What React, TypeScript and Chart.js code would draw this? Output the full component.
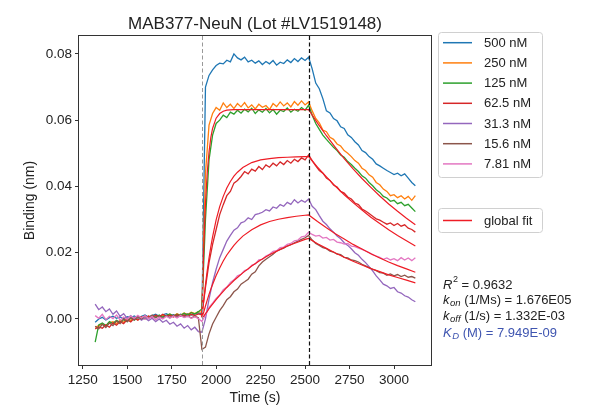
import React, { useEffect, useRef } from "react";
import { Chart, registerables } from "chart.js";
Chart.register(...registerables);

// ---------- data ----------
const times = [
  1320, 1340, 1360, 1380, 1400, 1420, 1440, 1460, 1480, 1500, 1520, 1540, 1560, 1580, 1600, 1620,
  1640, 1660, 1680, 1700, 1720, 1740, 1760, 1780, 1800, 1820, 1840, 1860, 1880, 1900, 1920,
  1940, 1960, 1980, 2000, 2020, 2040, 2060, 2080, 2100, 2120, 2140, 2160, 2180, 2200, 2220,
  2240, 2260, 2280, 2300, 2320, 2340, 2360, 2380, 2400, 2420, 2440, 2460, 2480, 2500, 2520,
  2540, 2560, 2580, 2600, 2620, 2640, 2660, 2680, 2700, 2720, 2740, 2760, 2780, 2800, 2820,
  2840, 2860, 2880, 2900, 2920, 2940, 2960, 2980, 3000, 3020, 3040, 3060, 3080, 3100, 3120,
];

const s500 = [
  -0.001, 0.0, 0.0005, -0.0003, 0.0004, 0.0008, 0.0002, 0.0006, 0.0, 0.0007, 0.0004, 0.0009, 0.0003, 0.0008, 0.0012, 0.0006,
  0.001, 0.0014, 0.0008, 0.0012, 0.0016, 0.001, 0.0013, 0.0009, 0.0014, 0.0011, 0.0016, 0.0012, 0.0015, 0.0018, 0.0015,
  0.07, 0.0735, 0.0752, 0.0765, 0.0772, 0.077, 0.0781, 0.0776, 0.08, 0.0788, 0.0782, 0.079, 0.0776, 0.0781, 0.0772,
  0.0779, 0.0768, 0.0777, 0.077, 0.078, 0.0766, 0.0775, 0.0771, 0.0782, 0.0774, 0.0786, 0.0777, 0.0788, 0.078, 0.079,
  0.0755, 0.0712, 0.0695, 0.0665, 0.0628, 0.0622, 0.0605, 0.0598, 0.058, 0.0575, 0.0556, 0.0548, 0.0535, 0.0525, 0.0508,
  0.0502, 0.049, 0.0482, 0.0468, 0.0462, 0.0455, 0.0448, 0.0442, 0.0436, 0.044, 0.0432, 0.0438, 0.0425, 0.0412, 0.0402,
];
const s250 = [
  -0.0025, -0.002, -0.0015, -0.0022, -0.0012, -0.0008, -0.0014, -0.0004, -0.001, 0.0002, -0.0005, 0.0004, -0.0002, 0.0006, 0.0001, 0.0008,
  0.0003, 0.001, 0.0005, 0.0012, 0.0007, 0.0014, 0.0009, 0.0016, 0.0011, 0.0018, 0.0013, 0.002, 0.0016, 0.0022, 0.002,
  0.044, 0.0585, 0.062, 0.0638, 0.063, 0.0652, 0.0638, 0.0648, 0.0635, 0.065, 0.064, 0.0653, 0.0637, 0.0646, 0.0634,
  0.0648, 0.0639, 0.0644, 0.0632, 0.065, 0.0641, 0.0655, 0.0643, 0.0652, 0.064, 0.0656, 0.0645, 0.0658, 0.0646, 0.0655,
  0.0628, 0.0605, 0.0592, 0.057, 0.0565, 0.0548, 0.0542, 0.0528, 0.0522, 0.0508, 0.05, 0.049, 0.0478, 0.047, 0.0455,
  0.0448, 0.0435, 0.0428, 0.0412, 0.0405, 0.0392, 0.0385, 0.0372, 0.0375, 0.0366, 0.0372, 0.0362, 0.037, 0.0358, 0.0372,
];
const s125 = [
  -0.007, -0.0018, -0.0012, -0.002, -0.0008, -0.0014, -0.0004, -0.0011, -0.0002, -0.0008, 0.0003, -0.0004, 0.0005, -0.0001, 0.0008, 0.0002,
  0.001, 0.0004, 0.0012, 0.0006, 0.0011, 0.0015, 0.0008, 0.0014, 0.001, 0.0017, 0.0012, 0.0019, 0.0015, 0.0022, 0.003,
  0.03, 0.048, 0.0555, 0.059, 0.06, 0.0615, 0.0608, 0.0624, 0.0618, 0.063, 0.0621, 0.0633, 0.0625, 0.0636, 0.062,
  0.0631, 0.0624, 0.0635, 0.0622, 0.0632, 0.0618, 0.063, 0.0626, 0.0637, 0.0624, 0.0633, 0.0627, 0.0638, 0.063, 0.0645,
  0.0615, 0.059, 0.0572, 0.0555, 0.0542, 0.053, 0.0518, 0.0508, 0.0495, 0.0488, 0.0475, 0.0466, 0.0455, 0.0445, 0.0432,
  0.0425, 0.0412, 0.0402, 0.039, 0.0382, 0.037, 0.0365, 0.0355, 0.0358, 0.0348, 0.0352, 0.0342, 0.0346, 0.0335, 0.0324,
];
const s62 = [
  -0.003, -0.0024, -0.0028, -0.0018, -0.0025, -0.0012, -0.0019, -0.0008, -0.0014, -0.0002, -0.0009, 0.0003, -0.0004, 0.0006, 0.0, 0.0009,
  0.0003, 0.0012, 0.0005, 0.0014, 0.0008, 0.0011, 0.0006, 0.0013, 0.0008, 0.0012, 0.0007, 0.0014, 0.001, 0.0015, 0.0012,
  0.0095, 0.017, 0.0225, 0.027, 0.0315, 0.0345, 0.0372, 0.0385, 0.041, 0.0418, 0.043, 0.0445, 0.0438, 0.0452, 0.0446,
  0.046, 0.0451, 0.0465, 0.0458, 0.047, 0.0462, 0.0474, 0.0466, 0.0478, 0.047, 0.0482, 0.0475, 0.0486, 0.048, 0.0495,
  0.0478, 0.0462, 0.0448, 0.044, 0.0425, 0.0418, 0.0404, 0.0398, 0.0385, 0.038, 0.0368, 0.0362, 0.035, 0.0345, 0.0332,
  0.0326, 0.0318, 0.031, 0.0302, 0.0298, 0.0292, 0.0286, 0.029, 0.0282, 0.0288, 0.028, 0.0284, 0.0274, 0.027, 0.0262,
];
const s31 = [
  0.0045, 0.0028, 0.0036, 0.0022, 0.003, 0.0014, 0.0024, 0.0008, 0.0016, 0.0002, 0.001, -0.0002, 0.0006, -0.0004, 0.0003, -0.0005,
  0.0002, -0.0008, 0.0, -0.001, -0.0004, -0.0016, -0.001, -0.0022, -0.0015, -0.0028, -0.002, -0.0033, -0.0025, -0.0038, -0.004,
  0.0, 0.006, 0.011, 0.015, 0.0185, 0.021, 0.0235, 0.0252, 0.0268, 0.0275, 0.029, 0.0294, 0.0305, 0.03, 0.0315,
  0.0318, 0.0322, 0.033, 0.0326, 0.0338, 0.0334, 0.0345, 0.034, 0.0352, 0.0346, 0.036, 0.035, 0.0358, 0.0352, 0.0362,
  0.034, 0.033, 0.0312, 0.0295, 0.0285, 0.0272, 0.0262, 0.025, 0.0242, 0.023, 0.0222, 0.0212, 0.02, 0.0192, 0.018,
  0.017, 0.0158, 0.0145, 0.013, 0.0118, 0.0105, 0.01, 0.0092, 0.0095, 0.0082, 0.0078, 0.007, 0.0066, 0.0058, 0.0052,
];
const s15 = [
  -0.0022, -0.003, -0.0016, -0.0026, -0.0012, -0.002, -0.0006, -0.0014, 0.0, -0.0008, 0.0004, -0.0003, 0.0007, 0.0, 0.001, 0.0003,
  0.0012, 0.0005, 0.0009, 0.0002, 0.001, 0.0004, 0.0011, 0.0005, 0.0012, 0.0006, 0.001, 0.0003, 0.0008, 0.0004, -0.0092,
  -0.0085, -0.0045, -0.0015, 0.0005, 0.0025, 0.004, 0.0058, 0.0067, 0.0082, 0.009, 0.0105, 0.0112, 0.012, 0.0135, 0.0142,
  0.016, 0.0172, 0.018, 0.0188, 0.0195, 0.0205, 0.021, 0.0214, 0.022, 0.0224, 0.023, 0.0235, 0.024, 0.0245, 0.0252,
  0.0238, 0.0228, 0.0222, 0.0215, 0.0212, 0.0205, 0.0202, 0.0196, 0.0194, 0.0186, 0.0184, 0.0178, 0.0176, 0.0172, 0.0165,
  0.016, 0.0155, 0.015, 0.0146, 0.014, 0.0138, 0.0132, 0.0136, 0.013, 0.0134, 0.0128, 0.0132, 0.0126, 0.0128, 0.0123,
];
const s7 = [
  0.001, 0.0002, 0.0014, -0.0002, 0.0008, 0.0001, 0.0012, -0.0003, 0.0006, -0.0001, 0.0009, 0.0002, 0.0011, 0.0003, 0.001, 0.0001,
  0.0007, -0.0002, 0.0005, 0.0, 0.0008, 0.0002, 0.0009, 0.0003, 0.001, 0.0004, 0.0008, 0.0002, 0.0007, 0.0001, -0.0008,
  0.0012, 0.0035, 0.0048, 0.0062, 0.0072, 0.0088, 0.0096, 0.011, 0.0118, 0.013, 0.0135, 0.0146, 0.015, 0.0162, 0.0166,
  0.0178, 0.018, 0.019, 0.0195, 0.0204, 0.0206, 0.0215, 0.0217, 0.0225, 0.0228, 0.0236, 0.0238, 0.0248, 0.025, 0.0262,
  0.0255, 0.025, 0.0252, 0.0244, 0.0246, 0.0238, 0.024, 0.0232, 0.023, 0.0226, 0.0228, 0.022, 0.0218, 0.0214, 0.021,
  0.0205, 0.02, 0.0194, 0.019, 0.0186, 0.018, 0.0184, 0.0178, 0.0182, 0.0176, 0.0185, 0.0178, 0.0184, 0.0176, 0.0185,
];

const seriesLabels = ["500 nM", "250 nM", "125 nM", "62.5 nM", "31.3 nM", "15.6 nM", "7.81 nM"];
const seriesColors = ["#1f77b4", "#ff7f0e", "#2ca02c", "#d62728", "#9467bd", "#8c564b", "#e377c2"];
const seriesValues = [s500, s250, s125, s62, s31, s15, s7];

const fitTimes = [
  1920, 1930, 1940, 1950, 1960, 1970, 1980, 2000, 2020, 2040, 2060, 2080, 2100, 2120, 2150, 2200,
  2250, 2300, 2350, 2400, 2450, 2500, 2520,
  2570, 2620, 2670, 2720, 2770, 2820, 2870, 2920, 2970, 3020, 3070, 3120,
];
const fitHigh = [
  0.0005, 0.0209, 0.0348, 0.0442, 0.0504, 0.0547, 0.0575, 0.0606, 0.062, 0.0627, 0.063, 0.0631, 0.0632, 0.0632, 0.0632, 0.0632,
  0.0632, 0.0632, 0.0632, 0.0632, 0.0632, 0.0632, 0.0632,
  0.0591, 0.0553, 0.0518, 0.0484, 0.0453, 0.0424, 0.0397, 0.0371, 0.0347, 0.0325, 0.0304, 0.0284,
];
const fit62 = [
  0.0005, 0.0054, 0.0103, 0.0146, 0.0184, 0.0218, 0.0248, 0.0299, 0.0339, 0.037, 0.0395, 0.0415, 0.0431, 0.0443, 0.0457, 0.0472,
  0.048, 0.0484, 0.0487, 0.0488, 0.0489, 0.049, 0.049,
  0.0458, 0.0429, 0.0401, 0.0375, 0.0351, 0.0329, 0.0307, 0.0288, 0.0269, 0.0252, 0.0236, 0.022,
];
const fit31 = [
  0.0005, 0.002, 0.0039, 0.0057, 0.0074, 0.009, 0.0104, 0.0131, 0.0154, 0.0175, 0.0193, 0.0208, 0.0222, 0.0234, 0.025, 0.0269,
  0.0284, 0.0294, 0.0301, 0.0306, 0.031, 0.0313, 0.0314,
  0.0294, 0.0275, 0.0257, 0.0241, 0.0225, 0.0211, 0.0197, 0.0184, 0.0172, 0.0161, 0.0151, 0.0141,
];
const fitLow = [
  0.0005, 0.0008, 0.0016, 0.0023, 0.0031, 0.0038, 0.0045, 0.0058, 0.0071, 0.0083, 0.0095, 0.0105, 0.0116, 0.0125, 0.0139, 0.016,
  0.0178, 0.0194, 0.0207, 0.022, 0.023, 0.024, 0.0243,
  0.0227, 0.0213, 0.0199, 0.0186, 0.0174, 0.0163, 0.0152, 0.0143, 0.0133, 0.0125, 0.0117, 0.0109,
];
const fitValues = [fitHigh, fit62, fit31, fitLow];
const fitColor = "#ee1c25";
const fitLabel = "global fit";

const xTicks = [1250, 1500, 1750, 2000, 2250, 2500, 2750, 3000];
const yTicks = [0.0, 0.02, 0.04, 0.06, 0.08];
const xRange = [1229, 3208];
const yRange = [-0.0139, 0.0854];
const stepTimes = [1920, 2520]; // association start, dissociation start

const titleText = "MAB377-NeuN (Lot #LV1519148)";
const xTitle = "Time (s)";
const yTitle = "Binding (nm)";

const FONT = "'Liberation Sans', Arial, Helvetica, sans-serif";
const TXT = "#222";

type Part = { t: string; it?: boolean; size?: number; dy?: number };
const statLines: { color: string; parts: Part[] }[] = [
  { color: TXT, parts: [{ t: "R", it: true }, { t: "2", size: 9, dy: -5 }, { t: " = 0.9632" }] },
  { color: TXT, parts: [{ t: "k", it: true }, { t: "on", it: true, size: 9.5, dy: 3 }, { t: " (1/Ms) = 1.676E05" }] },
  { color: TXT, parts: [{ t: "k", it: true }, { t: "off", it: true, size: 9.5, dy: 3 }, { t: " (1/s) = 1.332E-03" }] },
  { color: "#3f55b0", parts: [{ t: "K", it: true }, { t: "D", it: true, size: 9.5, dy: 3 }, { t: " (M) = 7.949E-09" }] },
];

function roundRect(ctx: CanvasRenderingContext2D, x: number, y: number, w: number, h: number, r: number) {
  ctx.beginPath();
  ctx.moveTo(x + r, y);
  ctx.lineTo(x + w - r, y);
  ctx.arcTo(x + w, y, x + w, y + r, r);
  ctx.lineTo(x + w, y + h - r);
  ctx.arcTo(x + w, y + h, x + w - r, y + h, r);
  ctx.lineTo(x + r, y + h);
  ctx.arcTo(x, y + h, x, y + h - r, r);
  ctx.lineTo(x, y + r);
  ctx.arcTo(x, y, x + r, y, r);
  ctx.closePath();
}

const overlay = {
  id: "overlay",
  afterDatasetsDraw(chart: any) {
    const ctx: CanvasRenderingContext2D = chart.ctx;
    const { top, bottom } = chart.chartArea;
    const xs = chart.scales.x;
    ctx.save();
    stepTimes.forEach((t, i) => {
      const px = Math.round(xs.getPixelForValue(t)) + 0.5;
      ctx.beginPath();
      ctx.setLineDash([4, 2.5]);
      ctx.strokeStyle = i === 0 ? "#999" : "#111";
      ctx.lineWidth = i === 0 ? 1 : 1.2;
      ctx.moveTo(px, top);
      ctx.lineTo(px, bottom);
      ctx.stroke();
    });
    ctx.restore();
  },
  afterDraw(chart: any) {
    const ctx: CanvasRenderingContext2D = chart.ctx;
    const { left, right, top, bottom } = chart.chartArea;
    ctx.save();
    // axes box
    ctx.strokeStyle = "#333";
    ctx.lineWidth = 1;
    ctx.setLineDash([]);
    ctx.strokeRect(Math.round(left) - 0.5, Math.round(top) - 0.5, Math.round(right - left) + 1, Math.round(bottom - top) + 1);

    // title
    ctx.fillStyle = TXT;
    ctx.textAlign = "center";
    ctx.textBaseline = "middle";
    ctx.font = `17px ${FONT}`;
    ctx.fillText(titleText, (left + right) / 2, 24);

    // axis titles
    ctx.font = `14px ${FONT}`;
    ctx.fillText(xTitle, (left + right) / 2, 398);
    ctx.save();
    ctx.translate(30, (top + bottom) / 2);
    ctx.rotate(-Math.PI / 2);
    ctx.fillText(yTitle, 0, 0);
    ctx.restore();

    // legend 1
    const lx = 438, lw = 104;
    ctx.fillStyle = "rgba(255,255,255,0.85)";
    ctx.strokeStyle = "#d0d0d0";
    roundRect(ctx, lx + 0.5, 32.5, lw, 145, 3);
    ctx.fill();
    ctx.stroke();
    ctx.font = `13px ${FONT}`;
    ctx.textAlign = "left";
    seriesLabels.forEach((lab, i) => {
      const y = 42.7 + i * 20.2;
      ctx.strokeStyle = seriesColors[i];
      ctx.lineWidth = 1.5;
      ctx.beginPath();
      ctx.moveTo(443, y);
      ctx.lineTo(472, y);
      ctx.stroke();
      ctx.fillStyle = TXT;
      ctx.fillText(lab, 484, y + 0.5);
    });

    // legend 2
    ctx.fillStyle = "rgba(255,255,255,0.85)";
    ctx.strokeStyle = "#d0d0d0";
    ctx.lineWidth = 1;
    roundRect(ctx, lx + 0.5, 208.5, lw, 24, 3);
    ctx.fill();
    ctx.stroke();
    ctx.strokeStyle = fitColor;
    ctx.lineWidth = 1.5;
    ctx.beginPath();
    ctx.moveTo(443, 220.5);
    ctx.lineTo(472, 220.5);
    ctx.stroke();
    ctx.fillStyle = TXT;
    ctx.fillText(fitLabel, 484, 221);

    // stats text
    const rowY = [285, 300.5, 316.5, 333];
    statLines.forEach((line, i) => {
      let x = 443;
      line.parts.forEach((p) => {
        const size = p.size ?? 13;
        ctx.font = `${p.it ? "italic " : ""}${size}px ${FONT}`;
        ctx.fillStyle = line.color;
        ctx.fillText(p.t, x, rowY[i] + (p.dy ?? 0));
        x += ctx.measureText(p.t).width + (p.it && !p.size ? 0.5 : 0);
      });
    });
    ctx.restore();
  },
};

export default function App() {
  const ref = useRef<HTMLCanvasElement | null>(null);
  useEffect(() => {
    if (!ref.current) return;
    Chart.defaults.font.family = FONT;
    const datasets: any[] = [];
    seriesValues.forEach((vals, i) => {
      datasets.push({
        label: seriesLabels[i],
        data: vals.map((v, j) => ({ x: times[j], y: v })),
        borderColor: seriesColors[i],
        borderWidth: 1.3,
        pointRadius: 0,
        tension: 0,
        fill: false,
        order: 20 - i,
      });
    });
    fitValues.forEach((vals, k) => {
      datasets.push({
        label: k === 0 ? fitLabel : fitLabel + " " + k,
        data: vals.map((v, j) => ({ x: fitTimes[j], y: v })),
        borderColor: fitColor,
        borderWidth: 1.2,
        pointRadius: 0,
        tension: 0,
        fill: false,
        order: 5 - k,
      });
    });
    const chart = new Chart(ref.current, {
      type: "line",
      data: { datasets },
      options: {
        animation: false,
        responsive: false,
        devicePixelRatio: 1,
        layout: { padding: { left: 0, right: 169, top: 36, bottom: 0 } },
        plugins: { legend: { display: false }, tooltip: { enabled: false }, title: { display: false } },
        scales: {
          x: {
            type: "linear",
            min: xRange[0],
            max: xRange[1],
            afterBuildTicks: (s: any) => {
              s.ticks = xTicks.map((v) => ({ value: v }));
            },
            afterFit: (s: any) => {
              s.height = 55;
            },
            ticks: {
              color: TXT,
              font: { size: 13.5, family: FONT },
              padding: 3,
              maxRotation: 0,
              autoSkip: false,
              callback: (v: any) => String(v),
            },
            grid: { display: true, drawOnChartArea: false, drawTicks: true, tickLength: 4, color: "#333" },
            border: { display: false },
          },
          y: {
            type: "linear",
            min: yRange[0],
            max: yRange[1],
            afterBuildTicks: (s: any) => {
              s.ticks = yTicks.map((v) => ({ value: v }));
            },
            afterFit: (s: any) => {
              s.width = 79;
            },
            ticks: {
              color: TXT,
              font: { size: 13.5, family: FONT },
              padding: 3,
              autoSkip: false,
              callback: (v: any) => Number(v).toFixed(2),
            },
            grid: { display: true, drawOnChartArea: false, drawTicks: true, tickLength: 4, color: "#333" },
            border: { display: false },
          },
        },
      },
      plugins: [overlay],
    });
    return () => chart.destroy();
  }, []);
  return (
    <div style={{ position: "absolute", left: 0, top: 0, width: 600, height: 420, background: "#fff" }}>
      <canvas ref={ref} width={600} height={420} style={{ width: 600, height: 420, display: "block" }} />
    </div>
  );
}
